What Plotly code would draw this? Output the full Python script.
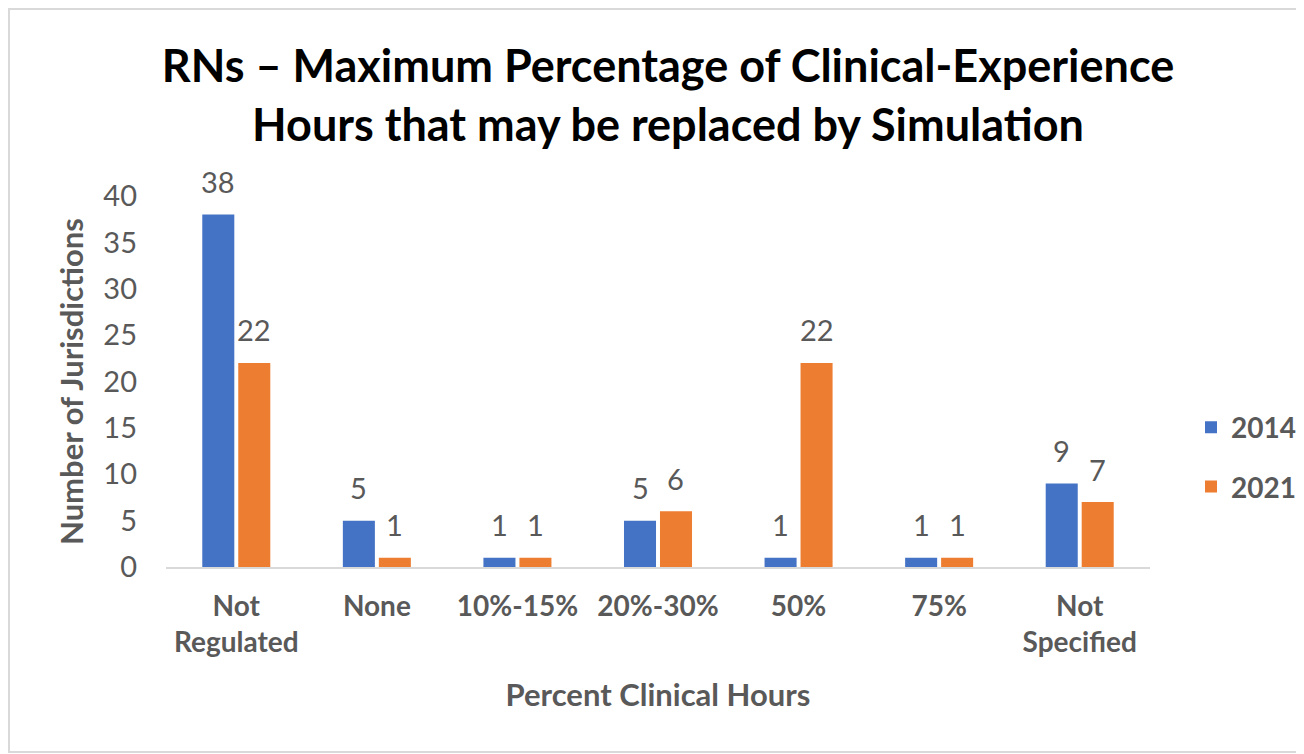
import plotly.graph_objects as go

categories = ["Not<br>Regulated", "None", "10%-15%", "20%-30%", "50%", "75%", "Not<br>Specified"]
series_names = ["2014", "2021"]
values_2014 = [38, 5, 1, 5, 1, 1, 9]
values_2021 = [22, 1, 1, 6, 22, 1, 7]
y_ticks = [0, 5, 10, 15, 20, 25, 30, 35, 40]

colors = ["#4472C4", "#ED7D31"]
FONT = "Lato"
GRAY = "#595959"

# page body has an 8px margin; figure fills the rest of the 1304x754 window
W, H = 1296, 746
L, R, T, B = 158, 154, 188, 187
pw, ph = W - L - R, H - T - B

fig = go.Figure()
for i, (name, vals) in enumerate(zip(series_names, [values_2014, values_2021])):
    fig.add_trace(go.Bar(
        x=categories, y=vals, name=name,
        marker=dict(color=colors[i], line=dict(width=0)),
        legendgroup=name,
    ))

# data labels
bargap = 0.488
cat_w = pw / len(categories)
slot = cat_w * (1 - bargap) / 2
for i, vals in enumerate([values_2014, values_2021]):
    shift = (i - 0.5) * slot
    for c, v in zip(categories, vals):
        fig.add_annotation(
            x=c, y=v, text=str(v), showarrow=False,
            xshift=shift, yshift=33, yanchor="middle",
            font=dict(family=FONT, size=29, color=GRAY),
        )

def px_to_paper_x(px):
    return (px - L) / pw

def px_to_paper_y(py):
    return (H - B - py) / ph

# chart border
fig.add_shape(
    type="rect", xref="paper", yref="paper",
    x0=px_to_paper_x(1), x1=px_to_paper_x(1292),
    y0=px_to_paper_y(744), y1=px_to_paper_y(1),
    line=dict(color="#D9D9D9", width=2), fillcolor="rgba(0,0,0,0)", layer="below",
)

fig.update_layout(
    width=W, height=H,
    margin=dict(l=L, r=R, t=T, b=B, autoexpand=False),
    paper_bgcolor="white", plot_bgcolor="white",
    barmode="group", bargap=bargap, bargroupgap=0.11,
    title=dict(
        text="RNs – Maximum Percentage of Clinical-Experience<br>Hours that may be replaced by Simulation",
        x=660 / W, xanchor="center", y=1 - 74 / H, yanchor="middle", yref="container",
        font=dict(family=FONT, size=45, color="black", weight="bold"),
    ),
    font=dict(family=FONT, color=GRAY),
    showlegend=True,
    legend=dict(
        x=px_to_paper_x(1183), xanchor="left", y=px_to_paper_y(449), yanchor="middle",
        font=dict(family=FONT, size=28, color=GRAY, weight="bold"),
        tracegroupgap=20, bgcolor="rgba(0,0,0,0)",
    ),
    xaxis=dict(
        showline=True, linecolor="#D9D9D9", linewidth=2,
        ticks="", showgrid=False, ticklabelstandoff=13,
        tickfont=dict(family=FONT, size=28, color=GRAY, weight="bold"),
        title=dict(text="Percent Clinical Hours", standoff=27,
                   font=dict(family=FONT, size=31, color=GRAY, weight="bold")),
        automargin=False,
    ),
    yaxis=dict(
        range=[0, 40], tickvals=y_ticks, showgrid=False, zeroline=False,
        showline=False, ticks="", ticklabelstandoff=28,
        tickfont=dict(family=FONT, size=29, color=GRAY),
        title=dict(text="Number of Jurisdictions", standoff=10,
                   font=dict(family=FONT, size=31, color=GRAY, weight="bold")),
        automargin=False,
    ),
)

fig.write_html("out.html")
